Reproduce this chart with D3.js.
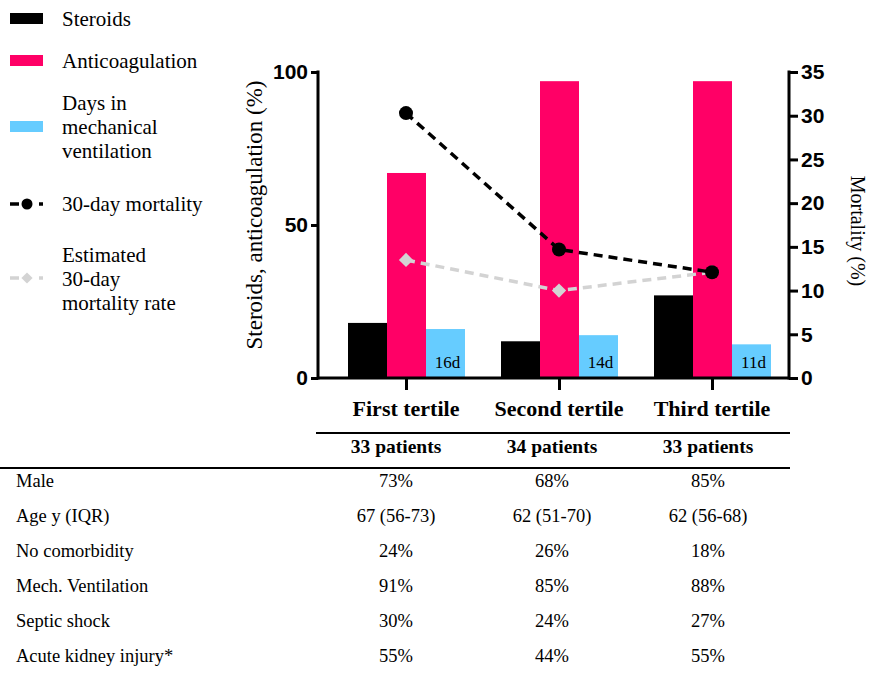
<!DOCTYPE html>
<html>
<head>
<meta charset="utf-8">
<script src="https://cdn.jsdelivr.net/npm/d3@7"></script>
<style>
  html, body { margin: 0; padding: 0; background: #fff; }
  svg { display: block; }
</style>
</head>
<body>
<svg id="chart" width="872" height="676"></svg>
<script>
// ---- data ----
const tertiles = ["First tertile", "Second tertile", "Third tertile"];
const patients = ["33 patients", "34 patients", "33 patients"];
const steroids = [18, 12, 27];            // %
const anticoagulation = [67, 97, 97];     // %
const ventDays = [16, 14, 11];            // days in mechanical ventilation
const mortality = [30.3, 14.7, 12.1];     // 30-day mortality, %
const estMortality = [13.5, 10, 12.1];    // estimated 30-day mortality rate, %
const leftTicks = [0, 50, 100];
const rightTicks = [0, 5, 10, 15, 20, 25, 30, 35];

const rowLabels = ["Male", "Age y (IQR)", "No comorbidity", "Mech. Ventilation", "Septic shock", "Acute kidney injury*"];
const rowFirst  = ["73%", "67 (56-73)", "24%", "91%", "30%", "55%"];
const rowSecond = ["68%", "62 (51-70)", "26%", "85%", "24%", "44%"];
const rowThird  = ["85%", "62 (56-68)", "18%", "88%", "27%", "55%"];

// ---- layout ----
const svg = d3.select("#chart");
const SERIF = "Liberation Serif";
const SANS = "Liberation Sans";
const axisLeftX = 318, axisRightX = 789;
const yTop = 72, yBottom = 378;

const x = d3.scalePoint().domain(tertiles).range([406, 712]);
const col = d3.scalePoint().domain(tertiles).range([396, 708]);   // table columns
const sub = d3.scaleBand().domain(["steroids", "anticoag", "days"]).range([-58, 59]).padding(0);
const yL = d3.scaleLinear().domain([0, 100]).range([yBottom, yTop]);
const yR = d3.scaleLinear().domain([0, 35]).range([yBottom, yTop]);

const colors = { steroids: "#000000", anticoag: "#ff0066", days: "#66ccff" };

// ---- legend ----
const lg = svg.append("g");
const swatch = (y, c) => lg.append("rect").attr("x", 10).attr("y", y).attr("width", 33).attr("height", 11).attr("fill", c);
swatch(13, colors.steroids);
swatch(55, colors.anticoag);
swatch(121, colors.days);
const lgText = (lines, y0) => {
  lines.forEach((s, i) => lg.append("text")
    .attr("x", 62).attr("y", y0 + i * 24)
    .attr("font-family", SERIF).attr("font-size", 21)
    .text(s));
};
lgText(["Steroids"], 26);
lgText(["Anticoagulation"], 68);
lgText(["Days in", "mechanical", "ventilation"], 110);
lgText(["30-day mortality"], 211);
lgText(["Estimated", "30-day", "mortality rate"], 262);

const key = (y, c, marker) => {
  lg.append("line").attr("x1", 10).attr("x2", 19).attr("y1", y).attr("y2", y).attr("stroke", c).attr("stroke-width", 3.5);
  lg.append("line").attr("x1", 39).attr("x2", 43).attr("y1", y).attr("y2", y).attr("stroke", c).attr("stroke-width", 3.5);
  if (marker === "circle") {
    lg.append("circle").attr("cx", 27).attr("cy", y).attr("r", 5.5).attr("fill", c);
  } else {
    lg.append("path").attr("d", d3.symbol().type(d3.symbolDiamond2).size(80)).attr("transform", `translate(27,${y})`).attr("fill", c);
  }
};
key(204, "#000", "circle");
key(278, "#d3d3d3", "diamond");

// ---- axis titles ----
svg.append("text")
  .attr("transform", `translate(262,215) rotate(-90)`)
  .attr("text-anchor", "middle").attr("font-family", SERIF).attr("font-size", 23)
  .text("Steroids, anticoagulation (%)");
svg.append("text")
  .attr("transform", `translate(851,231) rotate(90)`)
  .attr("text-anchor", "middle").attr("font-family", SERIF).attr("font-size", 20)
  .text("Mortality (%)");

// ---- category header ----
svg.append("g").selectAll("text").data(tertiles).join("text")
  .attr("x", d => x(d)).attr("y", 416)
  .attr("text-anchor", "middle").attr("font-family", SERIF).attr("font-weight", "bold").attr("font-size", 22)
  .text(d => d);
svg.append("line").attr("x1", 316).attr("x2", 790).attr("y1", 433).attr("y2", 433).attr("stroke", "#000").attr("stroke-width", 2);
svg.append("g").selectAll("text").data(patients).join("text")
  .attr("x", (d, i) => col(tertiles[i])).attr("y", 453)
  .attr("text-anchor", "middle").attr("font-family", SERIF).attr("font-weight", "bold").attr("font-size", 19.5)
  .text(d => d);
svg.append("line").attr("x1", 0).attr("x2", 790).attr("y1", 468).attr("y2", 468).attr("stroke", "#000").attr("stroke-width", 2);

// ---- table ----
const rowY = d3.scalePoint().domain(rowLabels).range([487, 662]);
const tbl = svg.append("g");
tbl.selectAll("text.lab").data(rowLabels).join("text").attr("class", "lab")
  .attr("x", 16).attr("y", d => rowY(d))
  .attr("font-family", SERIF).attr("font-size", 18.5)
  .text(d => d);
[rowFirst, rowSecond, rowThird].forEach((vals, ci) => {
  tbl.selectAll(`text.c${ci}`).data(vals).join("text").attr("class", `c${ci}`)
    .attr("x", col(tertiles[ci])).attr("y", (d, i) => rowY(rowLabels[i]))
    .attr("text-anchor", "middle")
    .attr("font-family", SERIF).attr("font-size", 18.5)
    .text(d => d);
});

// ---- bars ----
const barData = tertiles.flatMap((t, i) => [
  { t, key: "steroids", v: steroids[i] },
  { t, key: "anticoag", v: anticoagulation[i] },
  { t, key: "days", v: ventDays[i] }
]);
svg.append("g").selectAll("rect").data(barData).join("rect")
  .attr("x", d => x(d.t) + sub(d.key))
  .attr("y", d => yL(d.v))
  .attr("width", sub.bandwidth())
  .attr("height", d => yL(0) - yL(d.v))
  .attr("fill", d => colors[d.key]);

// day labels at the foot of the ventilation bars
svg.append("g").selectAll("text").data(tertiles).join("text")
  .attr("x", (t) => x(t) + sub("days") + sub.bandwidth() / 2 + 2)
  .attr("y", yBottom - 10)
  .attr("text-anchor", "middle")
  .attr("font-family", SERIF).attr("font-size", 17)
  .text((t, i) => ventDays[i] + "d");

// ---- lines ----
const lineGen = d3.line().x((d, i) => x(tertiles[i])).y(d => yR(d));
svg.append("path").datum(estMortality)
  .attr("d", lineGen).attr("fill", "none")
  .attr("stroke", "#d3d3d3").attr("stroke-width", 3.5).attr("stroke-dasharray", "9,6");
svg.append("g").selectAll("path").data(estMortality).join("path")
  .attr("d", d3.symbol().type(d3.symbolDiamond2).size(130))
  .attr("transform", (d, i) => `translate(${x(tertiles[i])},${yR(d)})`)
  .attr("fill", "#d3d3d3");

svg.append("path").datum(mortality)
  .attr("d", lineGen).attr("fill", "none")
  .attr("stroke", "#000").attr("stroke-width", 3.5).attr("stroke-dasharray", "9,6");
svg.append("g").selectAll("circle").data(mortality).join("circle")
  .attr("cx", (d, i) => x(tertiles[i]))
  .attr("cy", d => yR(d))
  .attr("r", 7)
  .attr("fill", "#000");

// ---- axes (drawn last, on top) ----
const axisStyle = g => {
  g.attr("font-family", SANS).attr("font-size", 21);
  g.select(".domain").remove();
  g.selectAll("line").attr("stroke", "#000").attr("stroke-width", 3);
  g.selectAll("text").attr("font-family", SANS)
    .attr("font-weight", "bold").attr("font-size", 21).attr("fill", "#000");
};
svg.append("g").attr("transform", `translate(${axisLeftX},0)`)
  .call(d3.axisLeft(yL).tickValues(leftTicks).tickSize(7).tickPadding(3)).call(axisStyle);
svg.append("g").attr("transform", `translate(${axisRightX},0)`)
  .call(d3.axisRight(yR).tickValues(rightTicks).tickSize(9).tickPadding(3)).call(axisStyle);
svg.append("g").attr("transform", `translate(0,${yBottom})`)
  .call(d3.axisBottom(x).tickSize(12).tickFormat("")).call(axisStyle);

svg.append("line").attr("x1", axisLeftX).attr("x2", axisLeftX).attr("y1", yTop - 1.5).attr("y2", yBottom + 1.5)
  .attr("stroke", "#000").attr("stroke-width", 3);
svg.append("line").attr("x1", axisRightX).attr("x2", axisRightX).attr("y1", yTop - 1.5).attr("y2", yBottom + 1.5)
  .attr("stroke", "#000").attr("stroke-width", 3);
svg.append("line").attr("x1", axisLeftX).attr("x2", axisRightX).attr("y1", yBottom).attr("y2", yBottom)
  .attr("stroke", "#000").attr("stroke-width", 3);
</script>
</body>
</html>
